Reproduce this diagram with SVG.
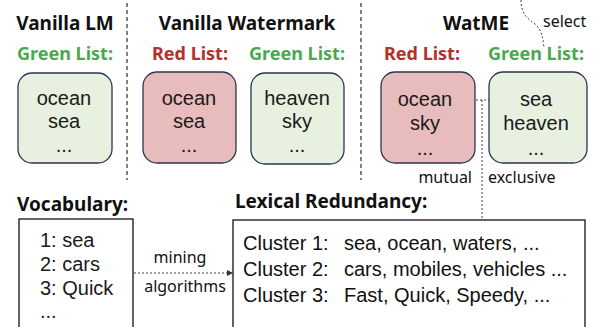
<svg xmlns="http://www.w3.org/2000/svg" width="594" height="327" viewBox="0 0 594 327">
<style>
text{font-family:"Noto Sans","Open Sans","DejaVu Sans",sans-serif;fill:#111}
.h{font-weight:bold;font-size:19px}
.gl{font-weight:bold;font-size:18px;fill:#4aa84f}
.rl{font-weight:bold;font-size:18px;fill:#b3302b}
.w{font-family:"Liberation Sans",Arial,sans-serif;font-size:20px;fill:#1a1a1a}
.c{font-family:"Liberation Sans",Arial,sans-serif;font-size:20px}
.s{font-size:16px}
.gb{fill:#e8f0df;stroke:#2b3550;stroke-width:1.3}
.rb{fill:#e8bcbc;stroke:#2b3550;stroke-width:1.3}
.bx{fill:#fff;stroke:#111;stroke-width:1.3}
.dv{stroke:#555;stroke-width:1.5;stroke-dasharray:4 3;fill:none}
.dt{stroke:#444;stroke-width:1;stroke-dasharray:2 2;fill:none}
</style>
<defs>
<marker id="ah" viewBox="0 0 6 6" refX="5" refY="3" markerWidth="6" markerHeight="6" orient="auto-start-reverse" markerUnits="userSpaceOnUse">
<path d="M0,0 L6,3 L0,6 z" fill="#333"/>
</marker>
</defs>
<g id="connectors">
<line class="dv" x1="127" y1="3" x2="127" y2="180"/>
<line class="dv" x1="361" y1="3" x2="361" y2="180"/>
<line class="dt" x1="464" y1="100" x2="504" y2="100" marker-start="url(#ah)" marker-end="url(#ah)"/>
<line class="dt" x1="482" y1="100" x2="482" y2="219"/>
<path class="dt" d="M521,0 C521,14 527,18 535,24 C542,30 543,38 544,48"/>
<line class="dt" x1="134" y1="273" x2="232" y2="273" marker-end="url(#ah)"/>
</g>
<g id="vanilla-lm">
<text class="h" x="65" y="30" text-anchor="middle">Vanilla LM</text>
<text class="gl" x="65" y="60" text-anchor="middle">Green List:</text>
<rect class="gb" x="18" y="73" width="94" height="90" rx="14"/>
<text class="w" x="64" y="105" text-anchor="middle">ocean</text>
<text class="w" x="64" y="128" text-anchor="middle">sea</text>
<text class="w" x="64" y="152" text-anchor="middle">...</text>
</g>
<g id="vanilla-watermark">
<text class="h" x="247" y="30" text-anchor="middle">Vanilla Watermark</text>
<text class="rl" x="190" y="60" text-anchor="middle">Red List:</text>
<rect class="rb" x="143" y="72" width="93" height="91" rx="14"/>
<text class="w" x="189" y="105" text-anchor="middle">ocean</text>
<text class="w" x="189" y="128" text-anchor="middle">sea</text>
<text class="w" x="189" y="152" text-anchor="middle">...</text>
<text class="gl" x="297" y="60" text-anchor="middle">Green List:</text>
<rect class="gb" x="251" y="73" width="93" height="91" rx="14"/>
<text class="w" x="297" y="105" text-anchor="middle">heaven</text>
<text class="w" x="297" y="128" text-anchor="middle">sky</text>
<text class="w" x="297" y="152" text-anchor="middle">...</text>
</g>
<g id="watme">
<text class="h" x="476" y="30" text-anchor="middle">WatME</text>
<text class="s" x="543" y="27">select</text>
<text class="rl" x="422" y="60" text-anchor="middle">Red List:</text>
<rect class="rb" x="381" y="72" width="94" height="91" rx="14"/>
<text class="w" x="425" y="106" text-anchor="middle">ocean</text>
<text class="w" x="425" y="130" text-anchor="middle">sky</text>
<text class="w" x="425" y="155" text-anchor="middle">...</text>
<text class="gl" x="536" y="60" text-anchor="middle">Green List:</text>
<rect class="gb" x="489" y="72" width="98" height="91" rx="14"/>
<text class="w" x="536" y="106" text-anchor="middle">sea</text>
<text class="w" x="536" y="130" text-anchor="middle">heaven</text>
<text class="w" x="536" y="155" text-anchor="middle">...</text>
<text class="s" x="472" y="183" text-anchor="end">mutual</text>
<text class="s" x="488" y="183">exclusive</text>
</g>
<g id="vocabulary">
<text class="h" x="17" y="211">Vocabulary:</text>
<rect class="bx" x="19" y="219" width="114" height="113"/>
<text class="w" x="40" y="247">1: sea</text>
<text class="w" x="40" y="271">2: cars</text>
<text class="w" x="40" y="295">3: Quick</text>
<text class="w" x="40" y="318">...</text>
</g>
<g id="mining-label">
<text class="s" x="180" y="263" text-anchor="middle">mining</text>
<text class="s" x="185" y="292" text-anchor="middle">algorithms</text>
</g>
<g id="lexical-redundancy">
<text class="h" x="235" y="208">Lexical Redundancy:</text>
<rect class="bx" x="233" y="220" width="352" height="112"/>
<text class="c" x="243" y="250">Cluster 1:</text>
<text class="c" x="344" y="250">sea, ocean, waters, ...</text>
<text class="c" x="243" y="276">Cluster 2:</text>
<text class="c" x="344" y="276">cars, mobiles, vehicles ...</text>
<text class="c" x="243" y="302">Cluster 3:</text>
<text class="c" x="344" y="302">Fast, Quick, Speedy, ...</text>
</g>
</svg>
